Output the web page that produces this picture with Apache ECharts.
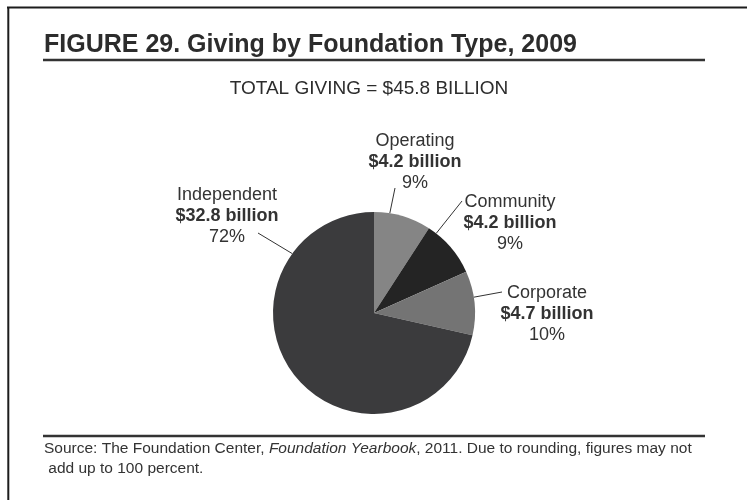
<!DOCTYPE html>
<html>
<head>
<meta charset="utf-8">
<script src="https://cdn.jsdelivr.net/npm/echarts@6/dist/echarts.min.js"></script>
<style>
  html, body { margin: 0; padding: 0; background: #ffffff; }
  #chart { width: 747px; height: 500px; }
</style>
</head>
<body>
<div id="chart"></div>
<script>
// Foundation giving by type, 2009 (billions of dollars)
const categories = ['Operating', 'Community', 'Corporate', 'Independent'];
const billions = [4.2, 4.2, 4.7, 32.8];
const totalLabel = 'TOTAL GIVING = $45.8 BILLION';

// Visual styling, kept apart from the data
const sliceColors = ['#858585', '#242424', '#747474', '#3b3b3d'];
const PIE_CENTER = [374, 313];
const PIE_RADIUS = 101;
const labelSpots = [[415, 162], [510, 223], [547, 314], [227, 216]];
// leader lines: angle (degrees clockwise from 12 o'clock) where each touches the rim,
// and the point beside its label where it ends
const leaderRimAngles = [9, 38, 81, 306];
const leaderEnds = [[395, 188], [462, 201], [502, 292], [258, 233]];
const ink = '#2c2c2c';
const FONT = '"Liberation Sans", Arial, sans-serif';

function rimPoint(deg) {
  const a = deg * Math.PI / 180;
  return [PIE_CENTER[0] + PIE_RADIUS * Math.sin(a), PIE_CENTER[1] - PIE_RADIUS * Math.cos(a)];
}

const chart = echarts.init(document.getElementById('chart'), null, { renderer: 'canvas' });

chart.setOption({
  backgroundColor: '#ffffff',
  animation: false,
  graphic: [
    // page frame (left and top rules)
    { type: 'line', shape: { x1: 8.3, y1: 7, x2: 8.3, y2: 500 }, style: { stroke: '#1c1c1c', lineWidth: 2 } },
    { type: 'line', shape: { x1: 7, y1: 7.5, x2: 747, y2: 7.5 }, style: { stroke: '#1c1c1c', lineWidth: 2 } },
    // figure heading
    { type: 'text', style: { text: 'FIGURE 29. Giving by Foundation Type, 2009', x: 44, y: 45,
        font: 'bold 25px ' + FONT, fill: ink, verticalAlign: 'middle', align: 'left' } },
    { type: 'line', shape: { x1: 43, y1: 60, x2: 705, y2: 60 }, style: { stroke: '#333333', lineWidth: 2.5 } },
    { type: 'text', style: { text: totalLabel, x: 369, y: 89,
        font: '19px ' + FONT, fill: ink, verticalAlign: 'middle', align: 'center' } },
    // source note
    { type: 'line', shape: { x1: 43, y1: 436, x2: 705, y2: 436 }, style: { stroke: '#333333', lineWidth: 2.5 } },
    { type: 'text', style: {
        text: '{n|Source: The Foundation Center, }{i|Foundation Yearbook}{n|, 2011. Due to rounding, figures may not}\n{n| add up to 100 percent.}',
        x: 44, y: 439, verticalAlign: 'top', align: 'left',
        rich: {
          n: { font: '15.5px ' + FONT, fill: '#333333', lineHeight: 20 },
          i: { font: 'italic 15.5px ' + FONT, fill: '#333333', lineHeight: 20 }
        }
      } }
  ],
  series: [{
    type: 'pie',
    center: PIE_CENTER,
    radius: [0, PIE_RADIUS],
    startAngle: 90,
    clockwise: true,
    percentPrecision: 0,
    avoidLabelOverlap: false,
    itemStyle: { borderWidth: 0 },
    label: {
      show: true,
      position: 'outside',
      formatter: function (p) {
        return '{n|' + p.name + '}\n{b|$' + p.value.toFixed(1) + ' billion}\n{n|' + p.percent + '%}';
      },
      rich: {
        n: { fontSize: 18, fontFamily: FONT, color: '#333333', lineHeight: 21, align: 'center' },
        b: { fontSize: 18, fontFamily: FONT, fontWeight: 'bold', color: '#333333', lineHeight: 21, align: 'center' }
      }
    },
    labelLine: { show: true, length: 10, length2: 0, lineStyle: { color: '#333333', width: 1 } },
    labelLayout: function (params) {
      const i = params.dataIndex;
      const s = labelSpots[i];
      return {
        x: s[0], y: s[1], align: 'center', verticalAlign: 'middle',
        labelLinePoints: [rimPoint(leaderRimAngles[i]), leaderEnds[i]]
      };
    },
    data: categories.map(function (name, i) {
      return { name: name, value: billions[i], itemStyle: { color: sliceColors[i] } };
    })
  }]
});
</script>
</body>
</html>
